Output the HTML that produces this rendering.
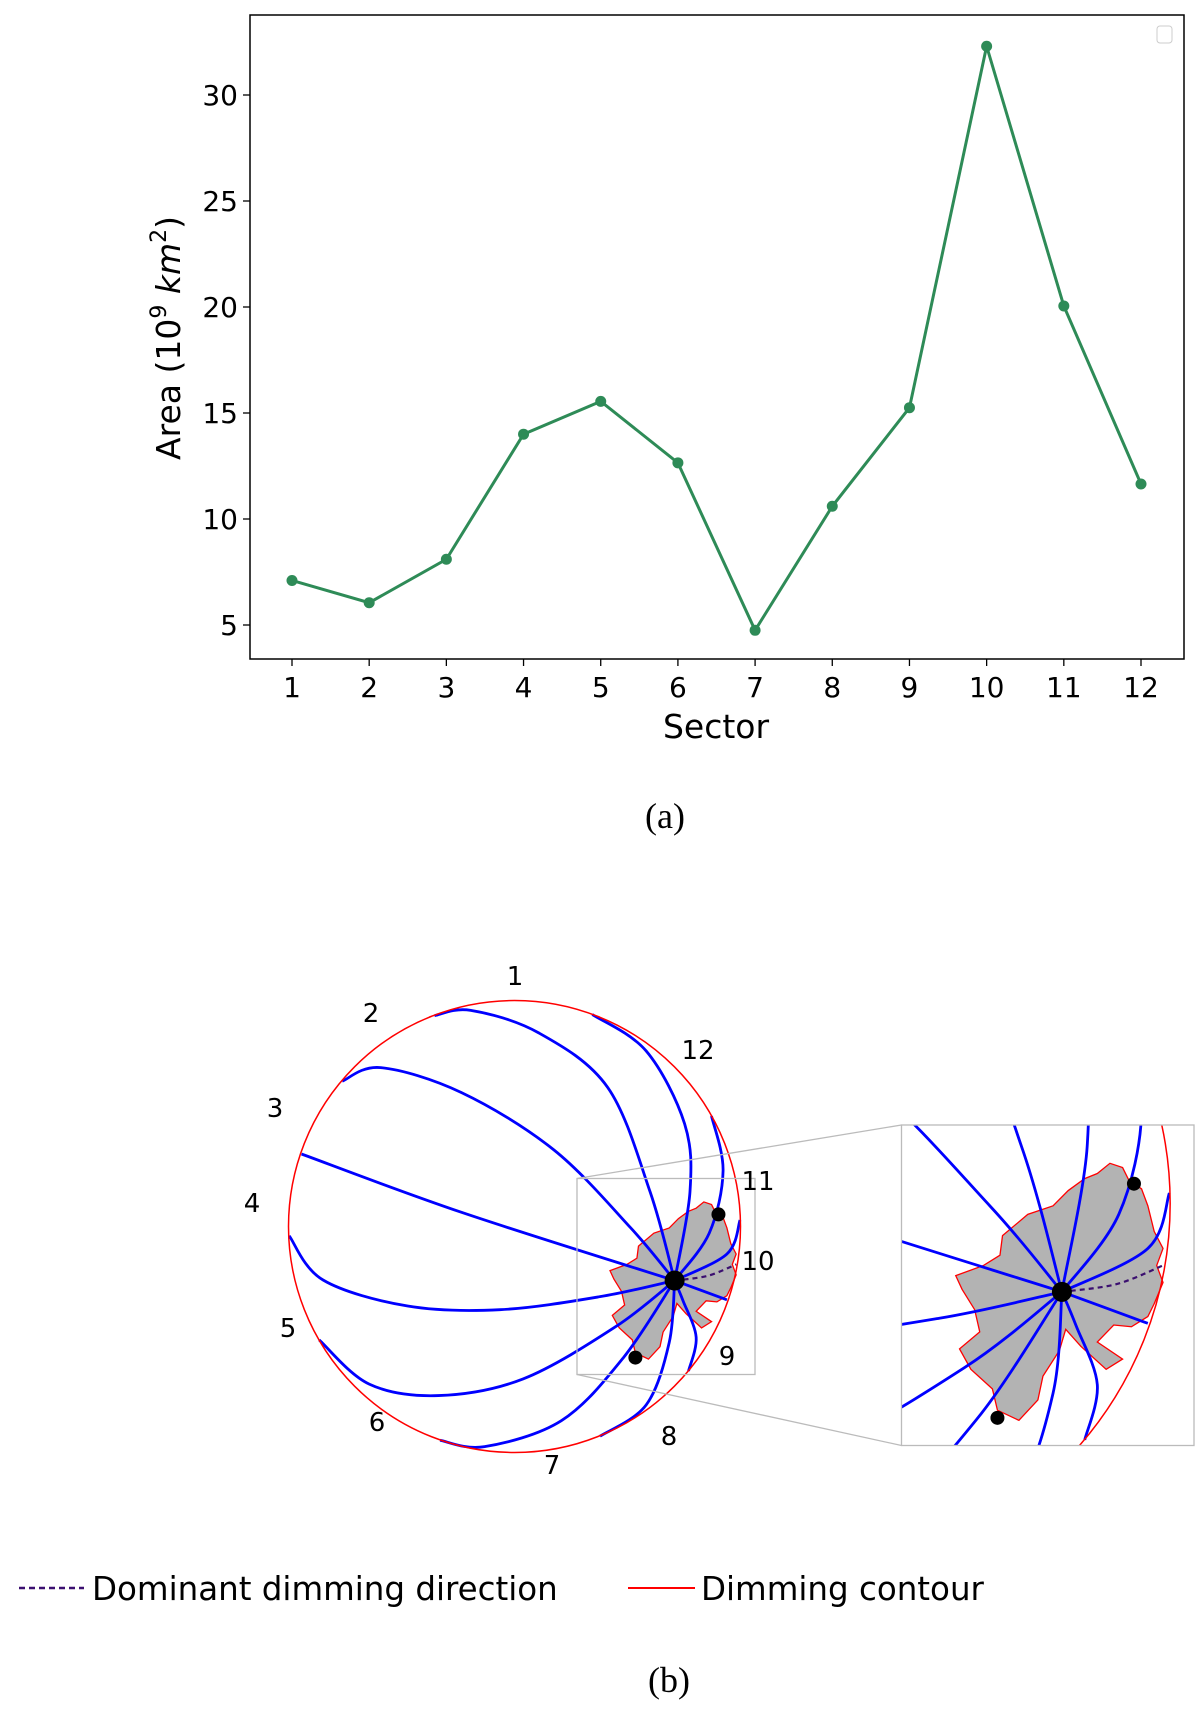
<!DOCTYPE html>
<html><head><meta charset="utf-8"><style>
html,body{margin:0;padding:0;background:#fff;}
svg{display:block;font-family:"DejaVu Sans","Liberation Sans",sans-serif;}
</style></head><body>
<svg id="root" width="1200" height="1712" viewBox="0 0 1200 1712" xmlns="http://www.w3.org/2000/svg">
<g id="chartA"></g>
<text x="665" y="828" font-family="Liberation Serif,serif" font-size="36" text-anchor="middle">(a)</text>
<g id="diagram"></g>
<g>
<line x1="19" y1="1588" x2="84" y2="1588" stroke="#3b0f70" stroke-width="2.5" stroke-dasharray="6,4"/>
<text x="92" y="1600" font-size="32.5">Dominant dimming direction</text>
<line x1="628" y1="1588" x2="695" y2="1588" stroke="#ff0000" stroke-width="2"/>
<text x="701" y="1600" font-size="32.5">Dimming contour</text>
</g>
<text x="669" y="1692" font-family="Liberation Serif,serif" font-size="36" text-anchor="middle">(b)</text>
</svg>
<script>
const sectors = [1,2,3,4,5,6,7,8,9,10,11,12];
const areas = [7.1,6.05,8.1,14.0,15.55,12.65,4.75,10.6,15.25,32.3,20.05,11.65];
const yTicks = [5,10,15,20,25,30];

const NS="http://www.w3.org/2000/svg";
function mk(tag,attrs,parent){const e=document.createElementNS(NS,tag);for(const k in attrs)e.setAttribute(k,attrs[k]);parent.appendChild(e);return e;}
const A=document.getElementById('chartA');
const L=250,R=1184,T=15,B=659;
const xs=v=>292+(v-1)*(1141-292)/11;
const ys=v=>625-(v-5)*(625-95)/25;
const frame=mk('rect',{x:L,y:T,width:R-L,height:B-T,fill:'none',stroke:'#000','stroke-width':1.5},A);


yTicks.forEach(t=>{
  const ln=mk('line',{x1:L-7,x2:L,y1:ys(t),y2:ys(t),stroke:'#000','stroke-width':1.3},A);
  
  
  const tx=mk('text',{x:L-12,y:ys(t)+10,'font-size':28,'text-anchor':'end'},A);
  
  
  tx.textContent=t;
});
sectors.forEach(s=>{
  const ln=mk('line',{x1:xs(s),x2:xs(s),y1:B,y2:B+7,stroke:'#000','stroke-width':1.3},A);
  
  
  const tx=mk('text',{x:xs(s),y:B+38,'font-size':28,'text-anchor':'middle'},A);
  
  
  tx.textContent=s;
});
const xl=mk('text',{x:716,y:738,'font-size':33,'text-anchor':'middle'},A);


xl.textContent='Sector';
const yl=mk('text',{x:0,y:0,'font-size':33,'text-anchor':'middle',transform:'translate(180,338) rotate(-90)'},A);


yl.innerHTML='Area (10<tspan dy="-14" font-size="22">9</tspan><tspan dy="14"> </tspan><tspan font-style="italic">km</tspan><tspan dy="-14" font-size="22">2</tspan><tspan dy="14">)</tspan>';
const lg=mk('rect',{x:1157,y:26,width:15,height:17,rx:3,fill:'#fff',stroke:'#ccc','stroke-width':1},A);


const line=mk('polyline',{points:sectors.map((s,i)=>xs(s)+','+ys(areas[i])).join(' '),fill:'none',stroke:'#2e8b57','stroke-width':3},A);


sectors.forEach((s,i)=>{
  const c=mk('circle',{cx:xs(s),cy:ys(areas[i]),r:5.5,fill:'#2e8b57'},A);
  
  
});

// Diagram (panel b)
const D=document.getElementById('diagram');
const P=(x,y)=>[x/1.3,900+y/1.921];
function path(pts){
  const p=pts.map(q=>P(q[0],q[1]));
  let d='M'+p[0][0].toFixed(1)+','+p[0][1].toFixed(1);
  for(let i=0;i<p.length-1;i++){
    const p0=p[i-1]||p[i],p1=p[i],p2=p[i+1],p3=p[i+2]||p2;
    const c1=[p1[0]+(p2[0]-p0[0])/6,p1[1]+(p2[1]-p0[1])/6];
    const c2=[p2[0]-(p3[0]-p1[0])/6,p2[1]-(p3[1]-p1[1])/6];
    d+=' C'+c1.join(',')+' '+c2.join(',')+' '+p2.join(',');
  }
  return d;
}
const defs=mk('defs',{},D);
const content=mk('g',{id:'diagContent'},defs);
const blob=[[830,665],[850,640],[870,630],[882,612],[895,598],[905,592],[915,580],[925,585],[930,600],[940,610],[945,630],[950,660],[957,680],[952,700],[957,720],[950,745],[945,760],[932,772],[918,770],[905,790],[925,810],[912,822],[892,795],[880,775],[875,800],[862,830],[858,858],[843,882],[826,870],[822,845],[805,822],[796,798],[812,778],[808,752],[798,728],[793,712],[815,700],[828,688]];
mk('polygon',{points:blob.map(q=>P(q[0],q[1]).join(',')).join(' '),fill:'#b3b3b3',stroke:'#ff0000','stroke-width':1.3,'vector-effect':'non-scaling-stroke'},content);
const C=[877,731];
const curves=[
 [[565,222],[612,212],[700,255],[790,360],[845,560],C],
 [[445,348],[495,322],[600,370],[720,480],[820,630],C],
 [[392,488],[600,600],C],
 [[376,645],[420,730],[530,780],[650,787],[780,762],C],
 [[415,845],[480,930],[570,952],[680,920],[800,820],C],
 [[572,1038],[630,1050],[730,1000],[810,880],C],
 [[780,1030],[840,970],[870,850],C],
 [[895,905],[905,840],[888,770],C],
 [[945,768],C],
 [[962,615],[945,680],C],
 [[925,415],[940,520],[922,640],C],
 [[770,220],[840,290],[890,430],[897,560],C]
];
curves.forEach(c=>{
  mk('path',{d:path(c),fill:'none',stroke:'#0000ff','stroke-width':2.8,'vector-effect':'non-scaling-stroke'},content);
});
mk('path',{d:path([C,[920,722],[957,700]]),fill:'none',stroke:'#3b0f70','stroke-width':2.2,'stroke-dasharray':'5,4','vector-effect':'non-scaling-stroke'},content);
mk('circle',{cx:514.5,cy:1226.5,r:226,fill:'none',stroke:'#ff0000','stroke-width':1.5,'vector-effect':'non-scaling-stroke'},content);

const mainUse=mk('use',{href:'#diagContent'},D);


const dots=[[C,10],[[934,604],7],[[826,879],7]];
dots.forEach(([q,r])=>{const p=P(q[0],q[1]);
  const e=mk('circle',{cx:p[0],cy:p[1],r:r,fill:'#000'},D);
  
  
});
const ig=mk('g',{'clip-path':'url(#insetClipT)'},D);


const cp2=mk('clipPath',{id:'insetClipT'},defs);
mk('rect',{x:901.5,y:1125,width:292.5,height:320.5},cp2);
const sx=292.5/178, sy=320.5/196;
const tf=p=>[(p[0]-577)*sx+901.5,(p[1]-1178.5)*sy+1125];
mk('use',{href:'#diagContent',transform:`translate(901.5,1125) scale(${sx},${sy}) translate(-577,-1178.5)`},ig);
dots.forEach(([q,r])=>{const p=tf(P(q[0],q[1]));
  const e=mk('circle',{cx:p[0],cy:p[1],r:r,fill:'#000'},ig);
  
  
});
const r1=mk('rect',{x:577,y:1178.5,width:178,height:196,fill:'none',stroke:'#bbb','stroke-width':1.3},D);


const r2=mk('rect',{x:901.5,y:1125,width:292.5,height:320.5,fill:'none',stroke:'#bbb','stroke-width':1.3},D);


mk('line',{x1:577,y1:1178.5,x2:901.5,y2:1125,stroke:'#bbb','stroke-width':1.3},D);
mk('line',{x1:577,y1:1374.5,x2:901.5,y2:1445.5,stroke:'#bbb','stroke-width':1.3},D);
const labels=[['1',515,976],['2',371,1013],['12',698,1050],['3',275,1108],['11',758,1181],['4',252,1203],['10',758,1261],['5',288,1328],['9',727,1356],['6',377,1422],['8',669,1436],['7',552,1465]];
labels.forEach(([t,x,y])=>{
  const e=mk('text',{x:x,y:y+9,'font-size':26,'text-anchor':'middle'},D);
  
  
  e.textContent=t;
});
</script>
</body></html>
